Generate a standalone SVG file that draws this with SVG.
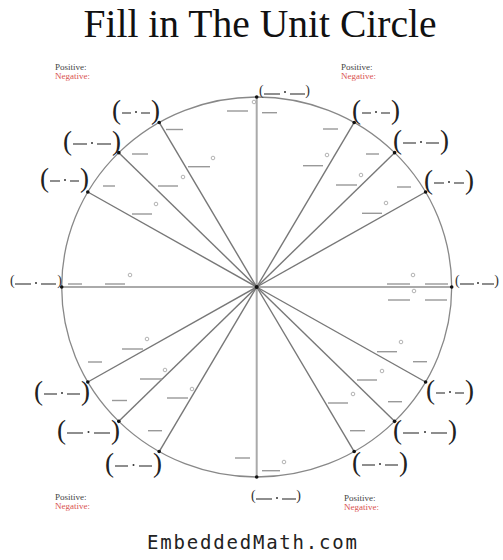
<svg xmlns="http://www.w3.org/2000/svg" width="503" height="560" viewBox="0 0 503 560">
<style>
.title{font-family:"Liberation Serif",serif;font-size:39.6px;fill:#111}
.pos{font-family:"Liberation Serif",serif;font-size:9px;fill:#444}
.neg{font-family:"Liberation Serif",serif;font-size:9px;fill:#d9534f}
.foot{font-family:"DejaVu Sans Mono",monospace;font-size:19px;fill:#222}
.ray{stroke:#777;stroke-width:1.4;fill:none}
.axis{stroke:#aaa;stroke-width:2;fill:none}
.circ{stroke:#888;stroke-width:1.3;fill:none}
.pt{fill:#111}
.bp{font-family:"Liberation Serif",serif;font-size:27px;fill:#222}
.sp{font-family:"Liberation Serif",serif;font-size:14px;fill:#333}
.ld{stroke:#444;stroke-width:1.2}
.ldot{fill:#333}
.b{stroke:#999;stroke-width:1.4}
.deg{stroke:#aaa;stroke-width:0.9;fill:none}
</style>
<rect width="503" height="560" fill="#fff"/>
<text class="title" x="260" y="37" text-anchor="middle">Fill in The Unit Circle</text>
<g id="legend-tl"><text class="pos" x="55" y="70">Positive:</text><text class="neg" x="55" y="79">Negative:</text></g>
<g id="legend-tr"><text class="pos" x="341" y="70">Positive:</text><text class="neg" x="341" y="79">Negative:</text></g>
<g id="legend-bl"><text class="pos" x="55" y="500">Positive:</text><text class="neg" x="55" y="509">Negative:</text></g>
<g id="legend-br"><text class="pos" x="344" y="501">Positive:</text><text class="neg" x="344" y="510">Negative:</text></g>
<g id="circle"><ellipse class="circ" cx="256.7" cy="287" rx="195" ry="190"/></g>
<g id="connectors">
<line class="axis" x1="61.7" y1="287" x2="451.7" y2="287"/>
<line class="axis" x1="256.7" y1="97" x2="256.7" y2="477"/>
<line class="ray" x1="256.7" y1="287" x2="425.6" y2="192"/>
<line class="ray" x1="256.7" y1="287" x2="394.6" y2="152.65"/>
<line class="ray" x1="256.7" y1="287" x2="354.2" y2="122.45"/>
<line class="ray" x1="256.7" y1="287" x2="159.2" y2="122.45"/>
<line class="ray" x1="256.7" y1="287" x2="118.8" y2="152.65"/>
<line class="ray" x1="256.7" y1="287" x2="87.8" y2="192"/>
<line class="ray" x1="256.7" y1="287" x2="87.8" y2="382"/>
<line class="ray" x1="256.7" y1="287" x2="118.8" y2="421.35"/>
<line class="ray" x1="256.7" y1="287" x2="159.2" y2="451.55"/>
<line class="ray" x1="256.7" y1="287" x2="354.2" y2="451.55"/>
<line class="ray" x1="256.7" y1="287" x2="394.6" y2="421.35"/>
<line class="ray" x1="256.7" y1="287" x2="425.6" y2="382"/>
</g>
<g id="center"><circle class="pt" cx="256.7" cy="287" r="2"/></g>
<g id="p0">
<circle class="pt" cx="451.7" cy="287" r="1.8"/>
<text class="sp" x="455" y="285">(</text><line class="ld" x1="460" y1="284" x2="474" y2="284"/><circle class="ldot" cx="478" cy="283" r="1"/><line class="ld" x1="482" y1="284" x2="494" y2="284"/><text class="sp" x="499" y="285" text-anchor="end">)</text>
<line class="b" x1="387" y1="284" x2="410" y2="284"/><circle class="deg" cx="413" cy="275" r="1.8"/><line class="b" x1="425" y1="284" x2="448" y2="284"/>
<line class="b" x1="388" y1="300" x2="410" y2="300"/><circle class="deg" cx="414" cy="291" r="1.8"/><line class="b" x1="425" y1="300" x2="447" y2="300"/>
</g>
<g id="p30">
<circle class="pt" cx="425.6" cy="192" r="1.8"/>
<text class="bp" x="424" y="189">(</text><line class="ld" x1="434" y1="183" x2="444" y2="183"/><circle class="ldot" cx="449" cy="182" r="1"/><line class="ld" x1="454" y1="183" x2="464" y2="183"/><text class="bp" x="474" y="189" text-anchor="end">)</text>
<line class="b" x1="362" y1="213.3" x2="382" y2="213.3"/><circle class="deg" cx="386" cy="203" r="1.8"/><line class="b" x1="397" y1="187" x2="411" y2="187"/>
</g>
<g id="p45">
<circle class="pt" cx="394.6" cy="152.65" r="1.8"/>
<text class="bp" x="393" y="149">(</text><line class="ld" x1="403" y1="143" x2="416" y2="143"/><circle class="ldot" cx="421" cy="142" r="1"/><line class="ld" x1="426" y1="143" x2="439" y2="143"/><text class="bp" x="449" y="149" text-anchor="end">)</text>
<line class="b" x1="336" y1="185" x2="357" y2="185"/><circle class="deg" cx="361" cy="175" r="1.8"/><line class="b" x1="366" y1="154" x2="379" y2="154"/>
</g>
<g id="p60">
<circle class="pt" cx="354.2" cy="122.45" r="1.8"/>
<text class="bp" x="352" y="119">(</text><line class="ld" x1="362" y1="113" x2="371" y2="113"/><circle class="ldot" cx="376" cy="112" r="1"/><line class="ld" x1="381" y1="113" x2="390" y2="113"/><text class="bp" x="400" y="119" text-anchor="end">)</text>
<line class="b" x1="303" y1="165.7" x2="323" y2="165.7"/><circle class="deg" cx="327" cy="155" r="1.8"/><line class="b" x1="323" y1="129" x2="338" y2="129"/>
</g>
<g id="p90">
<circle class="pt" cx="256.7" cy="97" r="1.8"/>
<text class="sp" x="259" y="95">(</text><line class="ld" x1="264" y1="94" x2="280" y2="94"/><circle class="ldot" cx="285" cy="92" r="1"/><line class="ld" x1="290" y1="94" x2="305" y2="94"/><text class="sp" x="310" y="95" text-anchor="end">)</text>
<line class="b" x1="227" y1="111" x2="248" y2="111"/><circle class="deg" cx="254" cy="102" r="1.8"/><line class="b" x1="262" y1="112.7" x2="277" y2="112.7"/>
</g>
<g id="p120">
<circle class="pt" cx="159.2" cy="122.45" r="1.8"/>
<text class="bp" x="112" y="119">(</text><line class="ld" x1="122" y1="113" x2="131" y2="113"/><circle class="ldot" cx="136" cy="112" r="1"/><line class="ld" x1="141" y1="113" x2="150" y2="113"/><text class="bp" x="160" y="119" text-anchor="end">)</text>
<line class="b" x1="188" y1="166.7" x2="210" y2="166.7"/><circle class="deg" cx="213" cy="158" r="1.8"/><line class="b" x1="166" y1="129.5" x2="183" y2="129.5"/>
</g>
<g id="p135">
<circle class="pt" cx="118.8" cy="152.65" r="1.8"/>
<text class="bp" x="63" y="150">(</text><line class="ld" x1="73" y1="144" x2="87" y2="144"/><circle class="ldot" cx="92" cy="143" r="1"/><line class="ld" x1="97" y1="144" x2="111" y2="144"/><text class="bp" x="121" y="150" text-anchor="end">)</text>
<line class="b" x1="158" y1="186" x2="178" y2="186"/><circle class="deg" cx="183" cy="177" r="1.8"/><line class="b" x1="132" y1="154" x2="148" y2="154"/>
</g>
<g id="p150">
<circle class="pt" cx="87.8" cy="192" r="1.8"/>
<text class="bp" x="40" y="187">(</text><line class="ld" x1="50" y1="181" x2="60" y2="181"/><circle class="ldot" cx="65" cy="180" r="1"/><line class="ld" x1="70" y1="181" x2="79" y2="181"/><text class="bp" x="89" y="187" text-anchor="end">)</text>
<line class="b" x1="132" y1="214" x2="152" y2="214"/><circle class="deg" cx="156" cy="204" r="1.8"/><line class="b" x1="103" y1="186" x2="115" y2="186"/>
</g>
<g id="p180">
<circle class="pt" cx="61.7" cy="287" r="1.8"/>
<text class="sp" x="10" y="285">(</text><line class="ld" x1="15" y1="284" x2="31" y2="284"/><circle class="ldot" cx="36" cy="283" r="1"/><line class="ld" x1="41" y1="284" x2="56" y2="284"/><text class="sp" x="62" y="285" text-anchor="end">)</text>
<line class="b" x1="68" y1="284" x2="82" y2="284"/><line class="b" x1="105" y1="284" x2="125" y2="284"/><circle class="deg" cx="130" cy="275" r="1.8"/>
</g>
<g id="p210">
<circle class="pt" cx="87.8" cy="382" r="1.8"/>
<text class="bp" x="34" y="400">(</text><line class="ld" x1="44" y1="394" x2="57" y2="394"/><circle class="ldot" cx="62" cy="393" r="1"/><line class="ld" x1="67" y1="394" x2="80" y2="394"/><text class="bp" x="90" y="400" text-anchor="end">)</text>
<line class="b" x1="122" y1="349" x2="143" y2="349"/><circle class="deg" cx="147" cy="339" r="1.8"/><line class="b" x1="88" y1="362" x2="102" y2="362"/>
</g>
<g id="p225">
<circle class="pt" cx="118.8" cy="421.35" r="1.8"/>
<text class="bp" x="57" y="439">(</text><line class="ld" x1="67" y1="433" x2="83" y2="433"/><circle class="ldot" cx="88.5" cy="432" r="1"/><line class="ld" x1="94" y1="433" x2="110" y2="433"/><text class="bp" x="120" y="439" text-anchor="end">)</text>
<line class="b" x1="140" y1="379" x2="162" y2="379"/><circle class="deg" cx="165" cy="370" r="1.8"/><line class="b" x1="112" y1="400.5" x2="127" y2="400.5"/>
</g>
<g id="p240">
<circle class="pt" cx="159.2" cy="451.55" r="1.8"/>
<text class="bp" x="105" y="472">(</text><line class="ld" x1="115" y1="466" x2="128" y2="466"/><circle class="ldot" cx="133.5" cy="465" r="1"/><line class="ld" x1="139" y1="466" x2="152" y2="466"/><text class="bp" x="162" y="472" text-anchor="end">)</text>
<line class="b" x1="167" y1="398" x2="188" y2="398"/><circle class="deg" cx="192" cy="389" r="1.8"/><line class="b" x1="148" y1="430.7" x2="162" y2="430.7"/>
</g>
<g id="p270">
<circle class="pt" cx="256.7" cy="477" r="1.8"/>
<text class="sp" x="251" y="500">(</text><line class="ld" x1="256" y1="499" x2="272" y2="499"/><circle class="ldot" cx="277" cy="498" r="1"/><line class="ld" x1="282" y1="499" x2="296" y2="499"/><text class="sp" x="301" y="500" text-anchor="end">)</text>
<line class="b" x1="235" y1="458" x2="250" y2="458"/><line class="b" x1="262" y1="470.7" x2="280" y2="470.7"/><circle class="deg" cx="284" cy="462" r="1.8"/>
</g>
<g id="p300">
<circle class="pt" cx="354.2" cy="451.55" r="1.8"/>
<text class="bp" x="352" y="471">(</text><line class="ld" x1="362" y1="465" x2="375" y2="465"/><circle class="ldot" cx="380" cy="464" r="1"/><line class="ld" x1="385" y1="465" x2="398" y2="465"/><text class="bp" x="408" y="471" text-anchor="end">)</text>
<line class="b" x1="328" y1="403" x2="348" y2="403"/><circle class="deg" cx="353" cy="394" r="1.8"/><line class="b" x1="350" y1="430.7" x2="365" y2="430.7"/>
</g>
<g id="p315">
<circle class="pt" cx="394.6" cy="421.35" r="1.8"/>
<text class="bp" x="393" y="439">(</text><line class="ld" x1="403" y1="433" x2="419" y2="433"/><circle class="ldot" cx="425" cy="432" r="1"/><line class="ld" x1="431" y1="433" x2="447" y2="433"/><text class="bp" x="457" y="439" text-anchor="end">)</text>
<line class="b" x1="357" y1="380" x2="377" y2="380"/><circle class="deg" cx="382" cy="371" r="1.8"/><line class="b" x1="388" y1="401.7" x2="402" y2="401.7"/>
</g>
<g id="p330">
<circle class="pt" cx="425.6" cy="382" r="1.8"/>
<text class="bp" x="426" y="399">(</text><line class="ld" x1="436" y1="393" x2="445" y2="393"/><circle class="ldot" cx="450" cy="392" r="1"/><line class="ld" x1="455" y1="393" x2="464" y2="393"/><text class="bp" x="474" y="399" text-anchor="end">)</text>
<line class="b" x1="377" y1="351.7" x2="397" y2="351.7"/><circle class="deg" cx="401" cy="342" r="1.8"/><line class="b" x1="413" y1="361.7" x2="427" y2="361.7"/>
</g>
<text class="foot" x="147" y="549" textLength="210" lengthAdjust="spacing">EmbeddedMath.com</text>
</svg>
